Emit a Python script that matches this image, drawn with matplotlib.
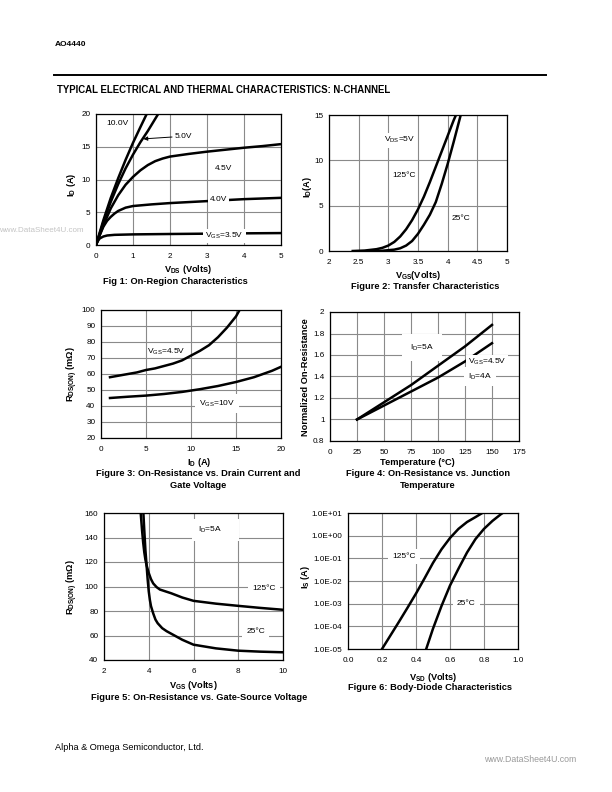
import matplotlib
matplotlib.use('Agg')
import matplotlib.pyplot as plt

plt.rcParams['font.family'] = ['Liberation Sans', 'DejaVu Sans']
plt.rcParams['mathtext.fontset'] = 'custom'
plt.rcParams['mathtext.rm'] = 'Liberation Sans'
plt.rcParams['mathtext.it'] = 'Liberation Sans'
plt.rcParams['mathtext.bf'] = 'Liberation Sans:bold'

# ---------------- data ----------------
# Fig 1: On-region characteristics (VDS vs ID)
f1_v10_x = [0, 0.2, 0.4, 0.6, 0.8, 1.0, 1.2, 1.37]
f1_v10_y = [0, 3.8, 7.2, 10.2, 13.0, 15.6, 18.0, 20.0]
f1_v50_x = [0, 0.2, 0.4, 0.6, 0.8, 1.0, 1.2, 1.4, 1.68]
f1_v50_y = [0, 3.5, 6.6, 9.3, 11.7, 13.8, 15.7, 17.4, 20.0]
f1_v45_x = [0, 0.2, 0.4, 0.6, 0.8, 1.0, 1.2, 1.4, 1.6, 1.8, 2.0, 2.5, 3.0, 3.5, 4.0, 4.5, 5.0]
f1_v45_y = [0, 3.0, 5.6, 7.6, 9.2, 10.4, 11.4, 12.2, 12.8, 13.2, 13.5, 13.9, 14.25, 14.55, 14.85, 15.1, 15.4]
f1_v40_x = [0, 0.1, 0.2, 0.3, 0.4, 0.5, 0.6, 0.8, 1.0, 1.5, 2.0, 3.0, 4.0, 5.0]
f1_v40_y = [0, 1.5, 2.8, 3.7, 4.3, 4.8, 5.2, 5.7, 5.95, 6.2, 6.4, 6.7, 7.0, 7.2]
f1_v35_x = [0, 0.05, 0.1, 0.2, 0.3, 0.5, 1.0, 2.0, 3.0, 4.0, 5.0]
f1_v35_y = [0, 0.6, 1.0, 1.3, 1.45, 1.55, 1.62, 1.68, 1.73, 1.78, 1.82]

# Fig 2: Transfer characteristics
f2_125_x = [2.4, 2.6, 2.8, 2.9, 3.0, 3.1, 3.2, 3.3, 3.4, 3.5, 3.6, 3.7, 3.8, 3.9, 4.0, 4.1, 4.14]
f2_125_y = [0, 0.05, 0.2, 0.35, 0.6, 1.0, 1.6, 2.4, 3.4, 4.6, 6.0, 7.6, 9.3, 11.0, 12.7, 14.4, 15.0]
f2_25_x = [2.7, 2.9, 3.1, 3.2, 3.3, 3.4, 3.5, 3.6, 3.7, 3.8, 3.9, 4.0, 4.1, 4.2, 4.22]
f2_25_y = [0, 0.03, 0.15, 0.3, 0.6, 1.1, 1.9, 2.9, 4.0, 5.4, 7.4, 9.6, 12.0, 14.5, 15.0]

# Fig 3: On-resistance vs drain current
f3_45_x = [1, 2, 3, 4, 5, 6, 7, 8, 9, 10, 11, 12, 13, 14, 15, 15.4]
f3_45_y = [58, 59, 60, 61, 62.5, 63.5, 65, 66.5, 68.5, 71.5, 74.5, 78, 83, 89, 96, 100]
f3_10_x = [1, 3, 5, 7, 9, 11, 13, 15, 17, 19, 20]
f3_10_y = [45, 45.8, 46.5, 47.5, 48.8, 50.5, 52.5, 55, 58, 62, 64.5]

# Fig 4: Normalized on-resistance vs temperature
f4_t = [25, 50, 75, 100, 125, 150]
f4_5a = [1.0, 1.16, 1.32, 1.5, 1.68, 1.88]
f4_4a = [1.0, 1.13, 1.26, 1.39, 1.54, 1.71]

# Fig 5: On-resistance vs gate-source voltage
f5_125_x = [3.64, 3.7, 3.75, 3.8, 3.85, 3.9, 4.0, 4.1, 4.2, 4.35, 4.5, 4.75, 5.0, 5.5, 6.0, 7.0, 8.0, 9.0, 10.0]
f5_125_y = [160, 146, 136, 128, 122, 117.5, 111, 106, 102.5, 99.5, 97.5, 96, 94.5, 91, 88.3, 86, 84.2, 82.5, 81]
f5_25_x = [3.76, 3.8, 3.85, 3.9, 3.95, 4.0, 4.05, 4.1, 4.2, 4.3, 4.4, 4.6, 4.8, 5.0, 5.5, 6.0, 7.0, 8.0, 9.0, 10.0]
f5_25_y = [160, 146, 130, 118, 106, 96, 89, 84, 78, 73, 70, 66, 63.5, 61.5, 56.5, 52.5, 49.5, 47.6, 46.8, 46.3]

# Fig 6: Body-diode characteristics
f6_125_x = [0.2, 0.25, 0.3, 0.35, 0.4, 0.45, 0.5, 0.55, 0.6, 0.65, 0.7, 0.75, 0.79]
f6_125_y = [1e-5, 4e-5, 1.6e-4, 6.6e-4, 2.8e-3, 1.3e-2, 6.3e-2, 2.5e-1, 7.9e-1, 2.0, 4.0, 6.6, 10.0]
f6_25_x = [0.46, 0.5, 0.55, 0.6, 0.65, 0.7, 0.75, 0.8, 0.85, 0.9, 0.91]
f6_25_y = [1e-5, 7.9e-5, 7.9e-4, 6.3e-3, 3.5e-2, 1.8e-1, 7.1e-1, 2.0, 4.5, 8.9, 10.0]
f6_yticks = [1e-5, 1e-4, 1e-3, 1e-2, 1e-1, 1e0, 1e1]
f6_ylabels = ['1.0E-05', '1.0E-04', '1.0E-03', '1.0E-02', '1.0E-01', '1.0E+00', '1.0E+01']

# ---------------- figure ----------------
W, H = 612, 792
fig = plt.figure(figsize=(6.12, 7.92), dpi=100)
fig.patch.set_facecolor('white')

LW = 1.8
TICK_FS = 5.9
LAB_FS = 6.7
CAP_FS = 6.7
TXT_FS = 6.0
GRID = '#8a8a8a'
WB = dict(facecolor='white', edgecolor='none', pad=1.5)


def ax_at(x0, y0, x1, y1):
    return fig.add_axes([x0 / W, 1 - y1 / H, (x1 - x0) / W, (y1 - y0) / H])


def ftext(x, y, s, **kw):
    kw.setdefault('ha', 'center')
    kw.setdefault('va', 'center')
    fig.text(x / W, 1 - y / H, s, **kw)


def style(ax, xlim, ylim, xticks, yticks, xlabels=None, ylabels=None):
    ax.set_xlim(xlim)
    ax.set_ylim(ylim)
    ax.set_xticks(xticks)
    ax.set_yticks(yticks)
    if xlabels is not None:
        ax.set_xticklabels(xlabels)
    if ylabels is not None:
        ax.set_yticklabels(ylabels)
    ax.minorticks_off()
    ax.grid(True, color=GRID, lw=0.8)
    ax.set_axisbelow(True)
    ax.tick_params(axis='both', length=0, labelsize=TICK_FS)
    ax.tick_params(axis='x', pad=5.5)
    ax.tick_params(axis='y', pad=4)
    for s in ax.spines.values():
        s.set_linewidth(0.9)
        s.set_zorder(5)


# header
ftext(55, 45, 'AO4440', ha='left', fontsize=6.0, fontweight='bold')
fig.add_artist(plt.Line2D([54 / W, 546 / W], [1 - 75 / H, 1 - 75 / H], color='black', lw=1.4))
ftext(57, 90, 'TYPICAL ELECTRICAL AND THERMAL CHARACTERISTICS: N-CHANNEL', ha='left',
      fontsize=6.9, fontweight='bold')

# ---------- Fig 1 ----------
ax = ax_at(96, 114, 281, 245)
style(ax, (0, 5), (0, 20), [0, 1, 2, 3, 4, 5], [0, 5, 10, 15, 20],
      ['0', '1', '2', '3', '4', '5'], ['0', '5', '10', '15', '20'])
for xs, ys in [(f1_v10_x, f1_v10_y), (f1_v50_x, f1_v50_y), (f1_v45_x, f1_v45_y),
               (f1_v40_x, f1_v40_y), (f1_v35_x, f1_v35_y)]:
    ax.plot(xs, ys, color='black', lw=LW, solid_capstyle='butt', zorder=3)
ax.text(0.29, 18.6, '10.0V', fontsize=TXT_FS, va='center')
ax.annotate('5.0V', xy=(1.28, 16.2), xytext=(2.13, 16.6), fontsize=TXT_FS, va='center',
            arrowprops=dict(arrowstyle='-|>', lw=0.7, color='black', mutation_scale=6,
                            shrinkA=0, shrinkB=0))
ax.text(3.2, 11.7, '4.5V', fontsize=TXT_FS, va='center')
ax.text(3.08, 6.9, '4.0V', fontsize=TXT_FS, va='center', bbox=WB, zorder=4)
ax.text(2.95, 1.4, r'V$_{\mathrm{GS}}$=3.5V', fontsize=TXT_FS, va='center', bbox=WB, zorder=4)
ftext(188, 270, r'V$_{\mathbf{DS}}$ (Volts)', fontsize=LAB_FS, fontweight='bold')
ftext(175, 281, 'Fig 1: On-Region Characteristics', fontsize=CAP_FS, fontweight='bold')
ftext(71, 185, r'I$_{\mathbf{D}}$ (A)', fontsize=LAB_FS, fontweight='bold', rotation=90)

# ---------- Fig 2 ----------
ax = ax_at(329, 115, 507, 251)
style(ax, (2, 5), (0, 15), [2, 2.5, 3, 3.5, 4, 4.5, 5], [0, 5, 10, 15],
      ['2', '2.5', '3', '3.5', '4', '4.5', '5'], ['0', '5', '10', '15'])
ax.plot(f2_125_x, f2_125_y, color='black', lw=LW, zorder=3)
ax.plot(f2_25_x, f2_25_y, color='black', lw=LW, zorder=3)
ax.text(2.93, 12.2, r'V$_{\mathrm{DS}}$=5V', fontsize=TXT_FS, va='center', bbox=WB, zorder=4)
ax.text(3.06, 8.3, '125°C', fontsize=TXT_FS, va='center')
ax.text(4.07, 3.6, '25°C', fontsize=TXT_FS, va='center')
ftext(418, 275, r'V$_{\mathbf{GS}}$(Volts)', fontsize=LAB_FS, fontweight='bold')
ftext(425, 286, 'Figure 2: Transfer Characteristics', fontsize=CAP_FS, fontweight='bold')
ftext(307, 187, r'I$_{\mathbf{D}}$(A)', fontsize=LAB_FS, fontweight='bold', rotation=90)

# ---------- Fig 3 ----------
ax = ax_at(101, 310, 281, 438)
style(ax, (0, 20), (20, 100), [0, 5, 10, 15, 20], list(range(20, 101, 10)),
      ['0', '5', '10', '15', '20'], [str(v) for v in range(20, 101, 10)])
ax.plot(f3_45_x, f3_45_y, color='black', lw=LW, zorder=3)
ax.plot(f3_10_x, f3_10_y, color='black', lw=LW, zorder=3)
ax.text(5.1, 74, r'V$_{\mathrm{GS}}$=4.5V', fontsize=TXT_FS, va='center')
ax.text(10.9, 41.5, r'V$_{\mathrm{GS}}$=10V', fontsize=TXT_FS, va='center',
        bbox=dict(facecolor='white', edgecolor='none', pad=3), zorder=4)
ftext(199, 463, r'I$_{\mathbf{D}}$ (A)', fontsize=LAB_FS, fontweight='bold')
ftext(198, 474, 'Figure 3: On-Resistance vs. Drain Current and', fontsize=CAP_FS, fontweight='bold')
ftext(198, 485, 'Gate Voltage', fontsize=CAP_FS, fontweight='bold')
ftext(72, 374, r'R$_{\mathbf{DS(ON)}}$ (mΩ)', fontsize=LAB_FS, fontweight='bold', rotation=90)

# ---------- Fig 4 ----------
ax = ax_at(330, 312, 519, 441)
style(ax, (0, 175), (0.8, 2.0), [0, 25, 50, 75, 100, 125, 150, 175],
      [0.8, 1.0, 1.2, 1.4, 1.6, 1.8, 2.0],
      ['0', '25', '50', '75', '100', '125', '150', '175'],
      ['0.8', '1', '1.2', '1.4', '1.6', '1.8', '2'])
ax.plot(f4_t, f4_5a, color='black', lw=LW, zorder=3)
ax.plot(f4_t, f4_4a, color='black', lw=LW, zorder=3)
ax.text(74, 1.67, r'I$_{\mathrm{D}}$=5A', fontsize=TXT_FS, va='center',
        bbox=dict(facecolor='white', edgecolor='none', pad=6), zorder=4)
ax.text(127.5, 1.535, r'V$_{\mathrm{GS}}$=4.5V', fontsize=TXT_FS, va='center', bbox=WB, zorder=4)
ax.text(127.5, 1.40, r'I$_{\mathrm{D}}$=4A', fontsize=TXT_FS, va='center',
        bbox=dict(facecolor='white', edgecolor='none', pad=3), zorder=4)
ftext(417, 463, 'Temperature (°C)', fontsize=LAB_FS, fontweight='bold')
ftext(428, 474, 'Figure 4: On-Resistance vs. Junction', fontsize=CAP_FS, fontweight='bold')
ftext(428, 485, 'Temperature', fontsize=CAP_FS, fontweight='bold')
ftext(305, 377, 'Normalized On-Resistance', fontsize=LAB_FS, fontweight='bold', rotation=90)

# ---------- Fig 5 ----------
ax = ax_at(104, 513, 283, 660)
style(ax, (2, 10), (40, 160), [2, 4, 6, 8, 10], list(range(40, 161, 20)),
      ['2', '4', '6', '8', '10'], [str(v) for v in range(40, 161, 20)])
ax.plot(f5_125_x, f5_125_y, color='black', lw=LW, zorder=3)
ax.plot(f5_25_x, f5_25_y, color='black', lw=LW, zorder=3)
ax.text(6.2, 146, r'I$_{\mathrm{D}}$=5A      ', fontsize=TXT_FS, va='center',
        bbox=dict(facecolor='white', edgecolor='none', pad=4), zorder=4)
ax.text(8.62, 98.6, '125°C', fontsize=TXT_FS, va='center',
        bbox=dict(facecolor='white', edgecolor='none', pad=3), zorder=4)
ax.text(8.36, 63, '25°C', fontsize=TXT_FS, va='center',
        bbox=dict(facecolor='white', edgecolor='none', pad=3), zorder=4)
ftext(193, 685, r'V$_{\mathbf{GS}}$ (Volts)', fontsize=LAB_FS, fontweight='bold')
ftext(199, 697, 'Figure 5: On-Resistance vs. Gate-Source Voltage', fontsize=CAP_FS, fontweight='bold')
ftext(72, 587, r'R$_{\mathbf{DS(ON)}}$ (mΩ)', fontsize=LAB_FS, fontweight='bold', rotation=90)

# ---------- Fig 6 ----------
ax = ax_at(348, 513, 518, 649)
ax.set_yscale('log')
style(ax, (0.0, 1.0), (1e-5, 1e1), [0, 0.2, 0.4, 0.6, 0.8, 1.0], f6_yticks,
      ['0.0', '0.2', '0.4', '0.6', '0.8', '1.0'], f6_ylabels)
ax.plot(f6_125_x, f6_125_y, color='black', lw=LW, zorder=3)
ax.plot(f6_25_x, f6_25_y, color='black', lw=LW, zorder=3)
ax.text(0.258, 1.2e-1, '125°C', fontsize=TXT_FS, va='center',
        bbox=dict(facecolor='white', edgecolor='none', pad=3), zorder=4)
ax.text(0.64, 1e-3, '25°C', fontsize=TXT_FS, va='center',
        bbox=dict(facecolor='white', edgecolor='none', pad=3), zorder=4)
ftext(433, 677, r'V$_{\mathbf{SD}}$ (Volts)', fontsize=LAB_FS, fontweight='bold')
ftext(430, 688, 'Figure 6: Body-Diode Characteristics', fontsize=CAP_FS, fontweight='bold')
ftext(306, 577, r'I$_{\mathbf{S}}$ (A)', fontsize=LAB_FS, fontweight='bold', rotation=90)

# footer / watermarks
ftext(-1, 230, 'www.DataSheet4U.com', ha='left', fontsize=5.8, color='#c4c4c4')
ftext(55, 748, 'Alpha & Omega Semiconductor, Ltd.', ha='left', fontsize=6.6)
ftext(484, 760, 'www.DataSheet4U.com', ha='left', fontsize=6.3, color='#9a9a9a')

fig.savefig('out.png', dpi=100, facecolor='white')
